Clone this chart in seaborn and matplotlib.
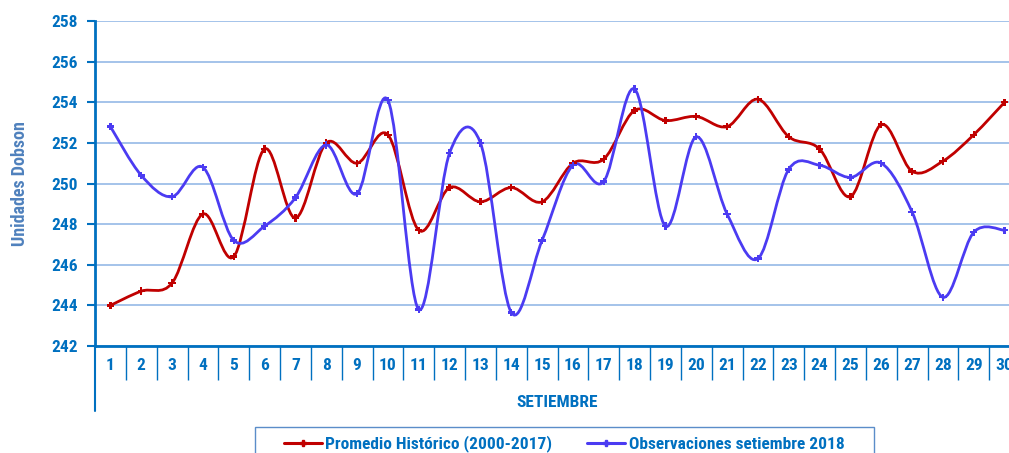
import numpy as np
import pandas as pd
import matplotlib
matplotlib.use("Agg")
import matplotlib.pyplot as plt
from matplotlib.path import Path
from matplotlib.patches import PathPatch, Rectangle
from matplotlib.lines import Line2D
import seaborn as sns

# === DATA ===
days = list(range(1, 31))
promedio = [244.0, 244.7, 245.1, 248.5, 246.4, 251.7, 248.3, 252.0, 251.0, 252.4,
            247.7, 249.8, 249.1, 249.8, 249.1, 251.0, 251.2, 253.6, 253.1, 253.3,
            252.8, 254.15, 252.3, 251.7, 249.35, 252.9, 250.6, 251.1, 252.4, 254.0]
obs_2018 = [252.8, 250.4, 249.35, 250.8, 247.2, 247.9, 249.3, 251.9, 249.5, 254.1,
            243.8, 251.5, 252.0, 243.65, 247.2, 250.9, 250.1, 254.65, 247.9, 252.3,
            248.5, 246.3, 250.7, 250.9, 250.3, 251.0, 248.6, 244.4, 247.6, 247.7]
series_names = ["Promedio Histórico (2000-2017)", "Observaciones setiembre 2018"]
y_ticks = [242, 244, 246, 248, 250, 252, 254, 256, 258]

RED = "#C00000"
BLUE = "#4B3BF2"
TXT = "#0070C0"
GRID = "#95B9E6"

sns.set_style("white")
plt.rcParams["font.family"] = ["Liberation Sans Narrow", "Roboto Condensed", "DejaVu Sans"]
plt.rcParams["font.weight"] = "bold"

df = pd.DataFrame({"dia": days * 2,
                   "valor": promedio + obs_2018,
                   "serie": [series_names[0]] * 30 + [series_names[1]] * 30})

fig = plt.figure(figsize=(10.09, 4.53), dpi=100)
ax = fig.add_axes([95 / 1009, 1 - 346 / 453, 925 / 1009, 325 / 453])


def smooth_path(xs, ys):
    # Catmull-Rom -> cubic bezier, like the smoothed lines in the source chart
    x = np.asarray(xs, float)
    y = np.asarray(ys, float)
    xp = np.concatenate([[x[0]], x, [x[-1]]])
    yp = np.concatenate([[y[0]], y, [y[-1]]])
    verts = [(x[0], y[0])]
    codes = [Path.MOVETO]
    for i in range(1, len(x)):
        c1 = (xp[i] + (xp[i + 1] - xp[i - 1]) / 6, yp[i] + (yp[i + 1] - yp[i - 1]) / 6)
        c2 = (xp[i + 1] - (xp[i + 2] - xp[i]) / 6, yp[i + 1] - (yp[i + 2] - yp[i]) / 6)
        verts += [c1, c2, (xp[i + 1], yp[i + 1])]
        codes += [Path.CURVE4] * 3
    return Path(verts, codes)


for name, color in zip(series_names, [RED, BLUE]):
    sub = df[df["serie"] == name]
    ax.add_patch(PathPatch(smooth_path(sub["dia"], sub["valor"]), facecolor="none",
                           edgecolor=color, lw=2.0, zorder=3))

sns.scatterplot(data=df, x="dia", y="valor", hue="serie", palette=[RED, BLUE],
                marker="P", s=28, linewidth=0, legend=False, zorder=4, ax=ax)

ax.set_xlim(0.5, 30.5)
ax.set_ylim(242, 258)
ax.set_yticks(y_ticks)
ax.set_yticklabels([str(t) for t in y_ticks], color=TXT, fontsize=12.5, fontweight="bold")
ax.yaxis.grid(True, color=GRID, lw=1.2)
ax.set_axisbelow(True)
ax.tick_params(axis="y", length=6, width=1.5, color=TXT, pad=6, left=True)

ax.set_xticks(days)
ax.set_xticklabels([str(d) for d in days], color=TXT, fontsize=12.5, fontweight="bold")
ax.tick_params(axis="x", length=0, pad=9)

for side in ["top", "right"]:
    ax.spines[side].set_visible(False)
for side in ["left", "bottom"]:
    ax.spines[side].set_color(TXT)
    ax.spines[side].set_linewidth(2)

# category separators below the axis and the extended left axis
trans = ax.get_xaxis_transform()
ax.vlines(np.arange(1.5, 30.5, 1), 0, -34 / 325, transform=trans, colors=TXT,
          lw=1.0, clip_on=False)
ax.plot([0.5, 0.5], [0, -65 / 325], transform=trans, color=TXT, lw=1.5, clip_on=False)

ax.set_xlabel("SETIEMBRE", color=TXT, fontsize=12.5, fontweight="bold")
ax.xaxis.set_label_coords(0.5, -49 / 325)
ax.set_ylabel("Unidades Dobson", color="#4F81BD", fontsize=13, fontweight="bold")
ax.yaxis.set_label_coords(-66 / 925, 0.5)

# legend box
fig.patches.append(Rectangle((255 / 1009, -0.05), 619 / 1009, 0.05 + 26 / 453,
                             transform=fig.transFigure, facecolor="white",
                             edgecolor="#5B8DC9", lw=1.0))
handles = [Line2D([0], [0], color=c, lw=2.2, marker="P", markersize=4.5)
           for c in [RED, BLUE]]
leg = fig.legend(handles, series_names, loc="center", bbox_to_anchor=(564 / 1009, 1 - 444 / 453),
                 ncol=2, frameon=False, fontsize=12.5, handlelength=2.2,
                 handletextpad=0.2, columnspacing=2.0)
for t in leg.get_texts():
    t.set_color(TXT)
    t.set_fontweight("bold")

fig.savefig("out.png", dpi=100)
